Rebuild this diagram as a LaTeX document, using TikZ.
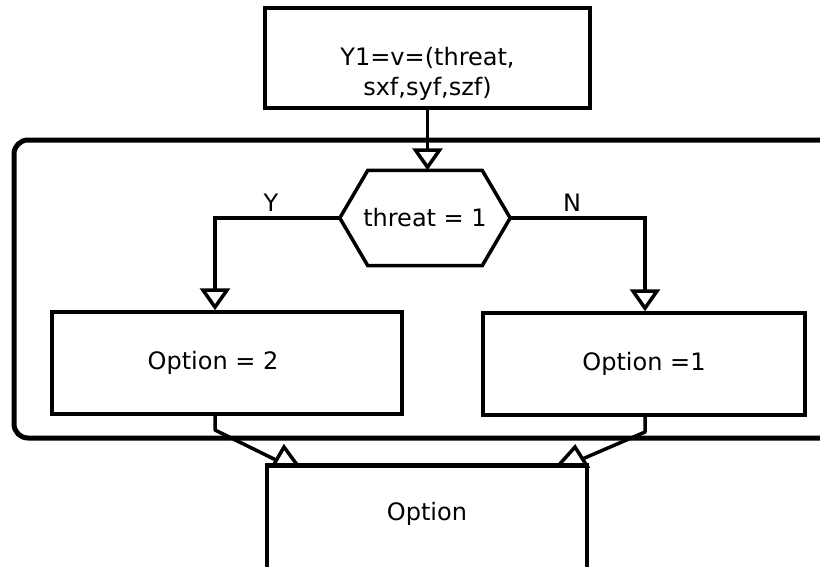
\documentclass[tikz,border=0pt]{standalone}
\usepackage{fontspec}
\setmainfont{DejaVu Sans}
\usetikzlibrary{arrows.meta,calc}
\begin{document}
\begin{tikzpicture}[x=1pt,y=-1pt,
  font=\fontsize{24}{30}\selectfont,
  box/.style={draw,line width=3.5pt,inner sep=0pt,align=center},
  conn/.style={line width=3.5pt,-{Triangle[open,width=30pt,length=22pt,line width=3.5pt]}},
  plain/.style={line width=3.5pt},
  tag/.style={inner sep=0pt}]
\useasboundingbox (0,0) rectangle (820,566);
\clip (0,0) rectangle (820,566);

% enclosing loop frame (runs past the right edge)
\draw[line width=5pt,rounded corners=14pt] (14,140) rectangle (900,438);

% nodes
\node[box,minimum width=325pt,minimum height=100pt,
  label={[align=center,yshift=-16pt]center:Y1=v=(threat,\\sxf,syf,szf)}] (input) at (427.5,58) {};
\node[minimum width=170pt,minimum height=95pt,inner sep=0pt] (test) at (425,218) {threat = 1};
\draw[line width=3.5pt,line join=miter]
  (test.west) -- ($(test.north west)+(28,0)$) -- ($(test.north east)+(-28,0)$)
  -- (test.east) -- ($(test.south east)+(-28,0)$) -- ($(test.south west)+(28,0)$) -- cycle;
\node[box,minimum width=350pt,minimum height=102pt,
  label={[xshift=-14pt]center:Option = 2}] (opttwo) at (227,363) {};
\node[box,minimum width=322pt,minimum height=102pt] (optone) at (644,364) {Option =1};
\node[box,minimum width=320pt,minimum height=154pt,
  label={[anchor=center,yshift=-50pt]north:Option}] (result) at (427,543) {};

% connectors
\draw[conn] (input.south) -- (input.south |- test.north);
\coordinate (ybend) at (215,218);
\coordinate (nbend) at (645,218);
\draw[conn] (test.west) -- (ybend) -- (ybend |- opttwo.north);
\draw[conn] (test.east) -- (nbend) -- (nbend |- optone.north);
\node[tag] (ylab) at (271,203) {Y};
\node[tag] (nlab) at (572,203) {N};

% merging connectors into the result box
\coordinate (lk) at (215,430);
\coordinate (rk) at (645,432);
\coordinate (lend) at (278,461);
\coordinate (rend) at (580,460);
\draw[plain,line join=round] (ybend |- opttwo.south) -- (lk) -- (lend);
\draw[plain,line join=round] (nbend |- optone.south) -- (rk) -- (rend);
\draw[plain,line join=miter,fill=white] (273,466) -- (284,447) -- (298,466) -- cycle;
\draw[plain,line join=miter,fill=white] (558,466) -- (575,447) -- (587,466) -- cycle;
\draw[line width=3.5pt] (result.north west) -- (result.north east);
\end{tikzpicture}
\end{document}
